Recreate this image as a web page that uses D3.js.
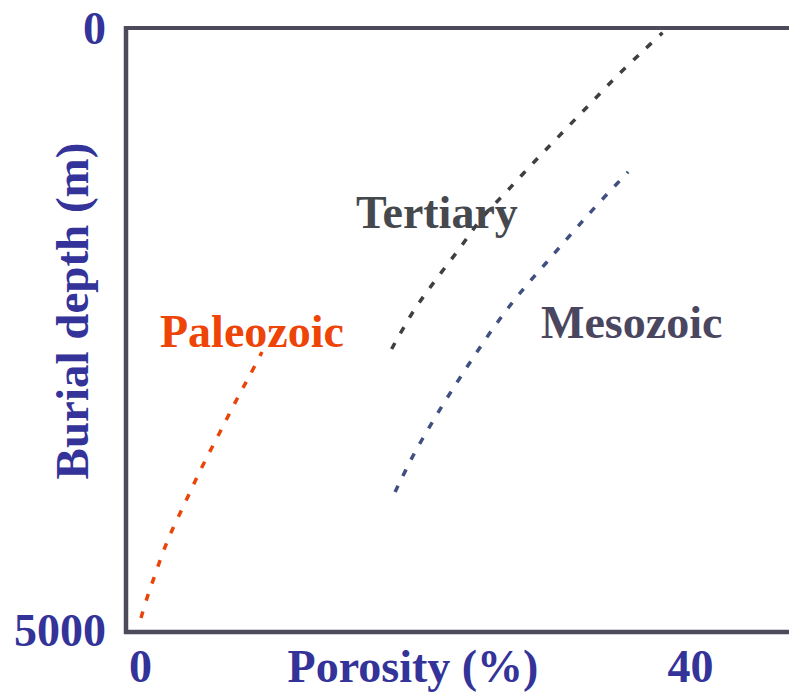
<!DOCTYPE html>
<html>
<head>
<meta charset="utf-8">
<script src="https://cdn.jsdelivr.net/npm/d3@7"></script>
<style>
  body { margin: 0; background: #fff; }
  text { font-family: "Liberation Serif", "Times New Roman", serif; font-weight: bold; }
</style>
</head>
<body>
<div id="chart"></div>
<script>
// data: porosity (%) vs burial depth (m)
var tertiaryPorosity = [18.3, 19.85, 21.45, 23.27, 24.87, 26.76, 28.73, 30.69, 32.58, 34.55, 36.58, 38.0];
var tertiaryDepth    = [2666, 2359, 2101, 1827, 1578, 1346, 1105, 872, 648, 415, 191, 40];

var mesozoicPorosity = [18.55, 19.85, 21.31, 22.84, 24.36, 25.96, 27.64, 29.53, 31.42, 33.24, 35.5];
var mesozoicDepth    = [3854, 3555, 3264, 2982, 2716, 2450, 2201, 1952, 1703, 1470, 1195];

var paleozoicPorosity = [0.07, 0.58, 1.09, 1.6, 2.18, 3.27, 4.51, 5.82, 7.13, 8.0, 8.87];
var paleozoicDepth    = [4900, 4709, 4543, 4377, 4211, 3945, 3646, 3355, 3065, 2882, 2691];

var xTicks = [0, 40];
var yTicks = [0, 5000];

// Chart set up
var svgWidth = 789;
var svgHeight = 692;
var margin = { top: 28, left: 126, bottom: 60, right: 0 };
var width = svgWidth - margin.left - margin.right;
var height = 602;

var svg = d3.select("#chart")
  .append("svg")
  .attr("width", svgWidth)
  .attr("height", svgHeight);

var chartGroup = svg.append("g")
  .attr("transform", `translate(${margin.left}, ${margin.top})`);

var xScale = d3.scaleLinear().domain([0, 40]).range([14, 564]);
var yScale = d3.scaleLinear().domain([0, 5000]).range([0, height]);

// frame: left, top and bottom lines
var frameColor = "#4d4a5c";
chartGroup.append("line")
  .attr("x1", 0).attr("x2", 0).attr("y1", -2).attr("y2", height + 4)
  .attr("stroke", frameColor).attr("stroke-width", 4.5);
chartGroup.append("line")
  .attr("x1", -2).attr("x2", width).attr("y1", 0).attr("y2", 0)
  .attr("stroke", frameColor).attr("stroke-width", 4);
chartGroup.append("line")
  .attr("x1", -2).attr("x2", width).attr("y1", height + 2).attr("y2", height + 2)
  .attr("stroke", frameColor).attr("stroke-width", 4.5);

// axes (labels only)
var leftAxis = d3.axisLeft(yScale).tickValues(yTicks).tickFormat(d3.format("d")).tickSize(0).tickPadding(20);
var bottomAxis = d3.axisBottom(xScale).tickValues(xTicks).tickFormat(d3.format("d")).tickSize(0).tickPadding(0);

var yAxisG = chartGroup.append("g").call(leftAxis);
yAxisG.select(".domain").remove();
yAxisG.selectAll("text")
  .attr("dy", "0.34em")
  .attr("font-size", 46)
  .attr("fill", "#333399")
  .style("font-family", "'Liberation Serif', serif")
  .style("font-weight", "bold");

var xAxisG = chartGroup.append("g")
  .attr("transform", `translate(0, ${height + 52})`)
  .call(bottomAxis);
xAxisG.select(".domain").remove();
xAxisG.selectAll("text")
  .attr("y", 0).attr("dy", 0)
  .attr("font-size", 46)
  .attr("fill", "#333399")
  .style("font-family", "'Liberation Serif', serif")
  .style("font-weight", "bold");

// axis titles
svg.append("text")
  .attr("x", 413).attr("y", 682)
  .attr("text-anchor", "middle")
  .attr("font-size", 46)
  .attr("fill", "#333399")
  .text("Porosity (%)");

svg.append("text")
  .attr("transform", "translate(88, 311) rotate(-90)")
  .attr("text-anchor", "middle")
  .attr("font-size", 47)
  .attr("fill", "#333399")
  .text("Burial depth (m)");

// dashed curves
var series = [
  { name: "Tertiary", x: tertiaryPorosity, y: tertiaryDepth, color: "#3d3f42" },
  { name: "Mesozoic", x: mesozoicPorosity, y: mesozoicDepth, color: "#3f5080" },
  { name: "Paleozoic", x: paleozoicPorosity, y: paleozoicDepth, color: "#ea4408" }
];

var line = d3.line()
  .x(d => xScale(d[0]))
  .y(d => yScale(d[1]))
  .curve(d3.curveCatmullRom);

series.forEach(function(s) {
  var pts = s.x.map((v, i) => [v, s.y[i]]);
  chartGroup.append("path")
    .datum(pts)
    .attr("d", line)
    .attr("fill", "none")
    .attr("stroke", s.color)
    .attr("stroke-width", 3.5)
    .attr("stroke-dasharray", "7,11");
});

// series labels
var labels = [
  { text: "Tertiary", x: 356, y: 228, color: "#45494d" },
  { text: "Mesozoic", x: 541, y: 338, color: "#4b4660" },
  { text: "Paleozoic", x: 160, y: 347, color: "#ee4407" }
];

svg.selectAll(".serieslabel")
  .data(labels)
  .enter()
  .append("text")
  .attr("class", "serieslabel")
  .attr("x", d => d.x)
  .attr("y", d => d.y)
  .attr("font-size", 46)
  .attr("fill", d => d.color)
  .text(d => d.text);
</script>
</body>
</html>
